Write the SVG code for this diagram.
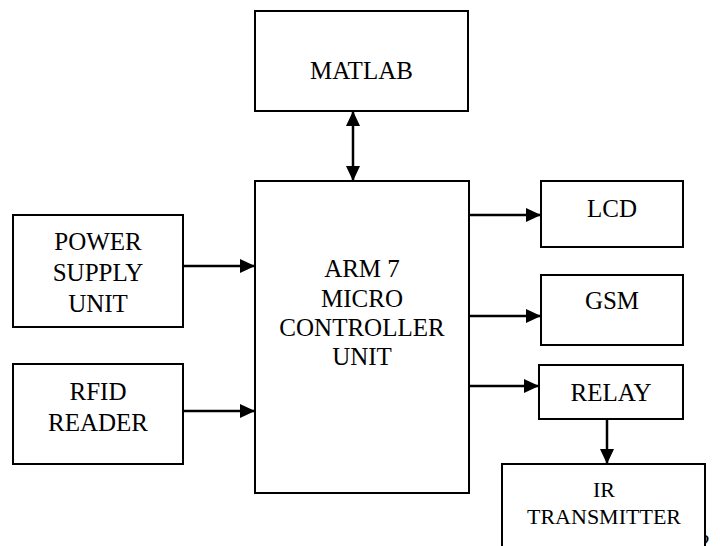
<svg xmlns="http://www.w3.org/2000/svg" width="720" height="546" viewBox="0 0 720 546">
<style>
.box{fill:#fff;stroke:#000;stroke-width:2}
.t{font-family:'Liberation Serif','Times New Roman',Times,'DejaVu Serif',serif;font-size:25px;text-anchor:middle;fill:#000}
.s{font-size:22px}
.c{stroke:#000;stroke-width:2.5;fill:none}
</style>
<defs>
<marker id="ah" markerUnits="userSpaceOnUse" markerWidth="16" markerHeight="14" refX="15" refY="7" orient="auto-start-reverse" viewBox="0 0 16 14">
<path d="M0,0 L15,7 L0,14 z" fill="#000"/>
</marker>
</defs>
<rect width="720" height="546" fill="#fff"/>
<text class="t s" x="699" y="549" text-anchor="start" font-family="Liberation Serif, serif">32</text>
<g id="connectors">
<line class="c" x1="353" y1="111" x2="353" y2="181" marker-start="url(#ah)" marker-end="url(#ah)"/>
<line class="c" x1="183" y1="266" x2="255" y2="266" marker-end="url(#ah)"/>
<line class="c" x1="183" y1="411" x2="255" y2="411" marker-end="url(#ah)"/>
<line class="c" x1="469" y1="215" x2="541" y2="215" marker-end="url(#ah)"/>
<line class="c" x1="469" y1="316" x2="541" y2="316" marker-end="url(#ah)"/>
<line class="c" x1="469" y1="386" x2="539" y2="386" marker-end="url(#ah)"/>
<line class="c" x1="607" y1="419" x2="607" y2="464" marker-end="url(#ah)"/>
</g>
<g id="matlab">
<rect class="box" x="255" y="11" width="213" height="100"/>
<text class="t" x="361.5" y="79" font-family="Liberation Serif, serif">MATLAB</text>
</g>
<g id="arm">
<rect class="box" x="255" y="181" width="214" height="312"/>
<text class="t" x="362" y="277" font-family="Liberation Serif, serif">ARM 7</text>
<text class="t" x="362" y="307" font-family="Liberation Serif, serif">MICRO</text>
<text class="t" x="362" y="336" font-family="Liberation Serif, serif">CONTROLLER</text>
<text class="t" x="362" y="365" font-family="Liberation Serif, serif">UNIT</text>
</g>
<g id="power">
<rect class="box" x="13" y="215" width="170" height="112"/>
<text class="t" x="98" y="250" font-family="Liberation Serif, serif">POWER</text>
<text class="t" x="98" y="281" font-family="Liberation Serif, serif">SUPPLY</text>
<text class="t" x="98" y="312" font-family="Liberation Serif, serif">UNIT</text>
</g>
<g id="rfid">
<rect class="box" x="13" y="364" width="170" height="100"/>
<text class="t" x="98" y="400" font-family="Liberation Serif, serif">RFID</text>
<text class="t" x="98" y="431" font-family="Liberation Serif, serif">READER</text>
</g>
<g id="lcd">
<rect class="box" x="541" y="181" width="142" height="66"/>
<text class="t" x="612" y="217" font-family="Liberation Serif, serif">LCD</text>
</g>
<g id="gsm">
<rect class="box" x="541" y="275" width="142" height="70"/>
<text class="t" x="612" y="309" font-family="Liberation Serif, serif">GSM</text>
</g>
<g id="relay">
<rect class="box" x="539" y="365" width="144" height="54"/>
<text class="t" x="611" y="401" font-family="Liberation Serif, serif">RELAY</text>
</g>
<g id="ir">
<rect class="box" x="502" y="464" width="203" height="100"/>
<text class="t s" x="604" y="497" font-family="Liberation Serif, serif">IR</text>
<text class="t s" x="604" y="524" font-family="Liberation Serif, serif">TRANSMITTER</text>
</g>
</svg>
